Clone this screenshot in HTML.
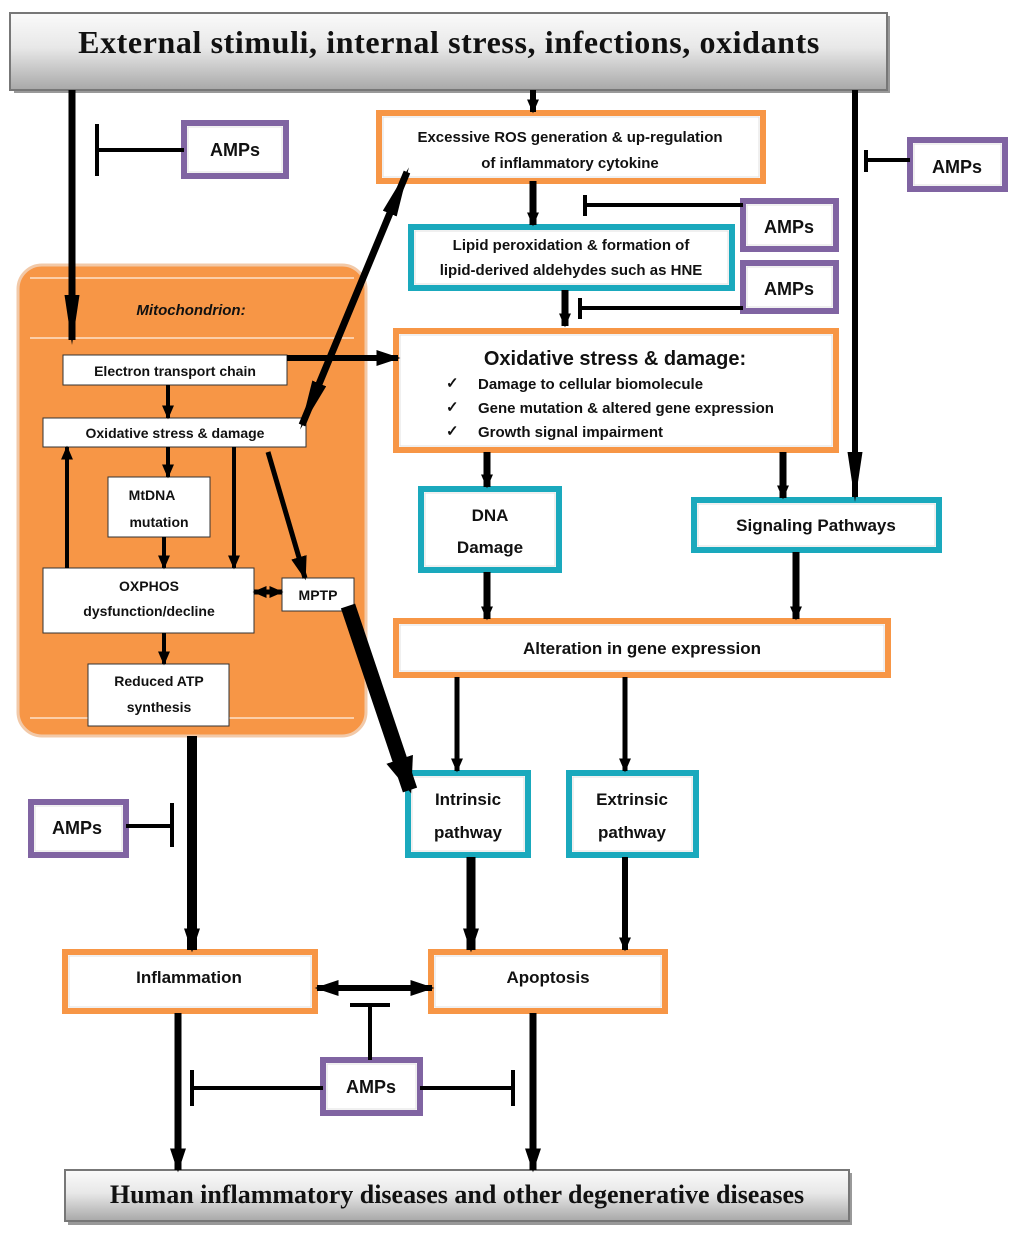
<!DOCTYPE html>
<html><head><meta charset="utf-8"><style>
body{margin:0;background:#fff}
svg text{font-family:"Liberation Sans",sans-serif;font-weight:bold;fill:#111}
</style></head><body>
<svg width="1024" height="1238" viewBox="0 0 1024 1238" xmlns="http://www.w3.org/2000/svg">
<defs>
<linearGradient id="g" x1="0" y1="0" x2="0" y2="1"><stop offset="0" stop-color="#fafafa"/><stop offset="0.45" stop-color="#e8e8e8"/><stop offset="1" stop-color="#a8a8a8"/></linearGradient>
<marker id="a" viewBox="0 0 10 10" refX="9" refY="5" preserveAspectRatio="none" markerUnits="userSpaceOnUse" markerWidth="24" markerHeight="16" orient="auto-start-reverse"><path d="M0,0L10,5L0,10z" fill="#000"/></marker>
<marker id="s" viewBox="0 0 10 10" refX="9" refY="5" preserveAspectRatio="none" markerUnits="userSpaceOnUse" markerWidth="14" markerHeight="12" orient="auto-start-reverse"><path d="M0,0L10,5L0,10z" fill="#000"/></marker>
<marker id="l" viewBox="0 0 10 10" refX="9" refY="5" preserveAspectRatio="none" markerUnits="userSpaceOnUse" markerWidth="50" markerHeight="15" orient="auto-start-reverse"><path d="M0,0L10,5L0,10z" fill="#000"/></marker>
<marker id="b" viewBox="0 0 10 10" refX="9" refY="5" preserveAspectRatio="none" markerUnits="userSpaceOnUse" markerWidth="36" markerHeight="28" orient="auto"><path d="M0,0L10,5L0,10z" fill="#000"/></marker>
</defs>

<!-- banners -->
<rect x="14" y="16" width="876" height="77" fill="#999"/>
<rect x="10" y="13" width="877" height="77" fill="url(#g)" stroke="#777" stroke-width="2"/>
<text x="449" y="53" text-anchor="middle" style="font-family:'Liberation Serif',serif;font-size:32px;letter-spacing:0.6px">External stimuli, internal stress, infections, oxidants</text>
<rect x="68" y="1173" width="784" height="52" fill="#999"/>
<rect x="65" y="1170" width="784" height="51" fill="url(#g)" stroke="#777" stroke-width="2"/>
<text x="457" y="1203" text-anchor="middle" style="font-family:'Liberation Serif',serif;font-size:26px">Human inflammatory diseases and other degenerative diseases</text>

<!-- mitochondrion -->
<rect x="18" y="265" width="348" height="471" rx="24" fill="#f79646" stroke="#f2c9a8" stroke-width="3"/>
<line x1="30" y1="278" x2="354" y2="278" stroke="#fde0c8" stroke-width="1.5"/>
<line x1="30" y1="338" x2="354" y2="338" stroke="#fde0c8" stroke-width="1.5"/>
<line x1="30" y1="718" x2="354" y2="718" stroke="#fde0c8" stroke-width="1.5"/>
<text x="191" y="315" text-anchor="middle" font-style="italic" font-size="15">Mitochondrion:</text>
<g fill="#fff" stroke="#333" stroke-width="1">
<rect x="63" y="355" width="224" height="30"/>
<rect x="43" y="418" width="263" height="29"/>
<rect x="108" y="477" width="102" height="60"/>
<rect x="43" y="568" width="211" height="65"/>
<rect x="282" y="578" width="72" height="33"/>
<rect x="88" y="664" width="141" height="62"/>
</g>
<g font-size="14" text-anchor="middle">
<text x="175" y="376">Electron transport chain</text>
<text x="175" y="438">Oxidative stress &amp; damage</text>
<text x="152" y="500">MtDNA</text><text x="159" y="527">mutation</text>
<text x="149" y="591">OXPHOS</text><text x="149" y="616">dysfunction/decline</text>
<text x="318" y="600">MPTP</text>
<text x="159" y="686">Reduced ATP</text><text x="159" y="712">synthesis</text>
</g>

<!-- orange boxes -->
<g fill="#fff" stroke="#f79646" stroke-width="6">
<rect x="379" y="113" width="384" height="68"/>
<rect x="396" y="331" width="440" height="119"/>
<rect x="396" y="621" width="492" height="54"/>
<rect x="65" y="952" width="250" height="59"/>
<rect x="431" y="952" width="234" height="59"/>
</g>
<!-- teal boxes -->
<g fill="#fff" stroke="#1aa9bd" stroke-width="6">
<rect x="411" y="227" width="321" height="61"/>
<rect x="421" y="489" width="138" height="81"/>
<rect x="694" y="500" width="245" height="50"/>
<rect x="408" y="773" width="120" height="82"/>
<rect x="569" y="773" width="127" height="82"/>
</g>
<!-- purple AMPs -->
<g fill="#fff" stroke="#8064a2" stroke-width="6">
<rect x="184" y="123" width="102" height="53"/>
<rect x="910" y="140" width="95" height="49"/>
<rect x="743" y="201" width="93" height="48"/>
<rect x="743" y="263" width="93" height="48"/>
<rect x="31" y="802" width="95" height="53"/>
<rect x="323" y="1060" width="97" height="53"/>
</g>
<g fill="none" stroke="#e0e0e0" stroke-width="1">
<rect x="383" y="117" width="376" height="60"/><rect x="400" y="335" width="432" height="111"/><rect x="400" y="625" width="484" height="46"/>
<rect x="69" y="956" width="242" height="51"/><rect x="435" y="956" width="226" height="51"/>
<rect x="415" y="231" width="313" height="53"/><rect x="425" y="493" width="130" height="73"/><rect x="698" y="504" width="237" height="42"/>
<rect x="412" y="777" width="112" height="74"/><rect x="573" y="777" width="119" height="74"/>
<rect x="188" y="127" width="94" height="45"/><rect x="914" y="144" width="87" height="41"/><rect x="747" y="205" width="85" height="40"/><rect x="747" y="267" width="85" height="40"/><rect x="35" y="806" width="87" height="45"/><rect x="327" y="1064" width="89" height="45"/>
</g>

<g font-size="16" text-anchor="middle">
<text x="570" y="142" font-size="15">Excessive ROS generation &amp; up-regulation</text>
<text x="570" y="168" font-size="15">of inflammatory cytokine</text>
<text x="571" y="250" font-size="15">Lipid peroxidation &amp; formation of</text>
<text x="571" y="275" font-size="15">lipid-derived aldehydes such as HNE</text>
<text x="615" y="365" font-size="20">Oxidative stress &amp; damage:</text>
<text x="490" y="521" font-size="17">DNA</text><text x="490" y="553" font-size="17">Damage</text>
<text x="816" y="531" font-size="17">Signaling Pathways</text>
<text x="642" y="654" font-size="17">Alteration in gene expression</text>
<text x="468" y="805" font-size="17">Intrinsic</text><text x="468" y="838" font-size="17">pathway</text>
<text x="632" y="805" font-size="17">Extrinsic</text><text x="632" y="838" font-size="17">pathway</text>
<text x="189" y="983" font-size="17">Inflammation</text>
<text x="548" y="983" font-size="17">Apoptosis</text>
<text x="235" y="156" font-size="18">AMPs</text>
<text x="957" y="173" font-size="18">AMPs</text>
<text x="789" y="233" font-size="18">AMPs</text>
<text x="789" y="295" font-size="18">AMPs</text>
<text x="77" y="834" font-size="18">AMPs</text>
<text x="371" y="1093" font-size="18">AMPs</text>
</g>
<g font-size="15">
<text x="446" y="388" font-weight="normal">✓</text><text x="478" y="389">Damage to cellular biomolecule</text>
<text x="446" y="412" font-weight="normal">✓</text><text x="478" y="413">Gene mutation &amp; altered gene expression</text>
<text x="446" y="436" font-weight="normal">✓</text><text x="478" y="437">Growth signal impairment</text>
</g>

<!-- arrows -->
<g stroke="#000" fill="none">
<line x1="72" y1="90" x2="72" y2="340" stroke-width="7" marker-end="url(#l)"/>
<line x1="533" y1="90" x2="533" y2="112" stroke-width="6" marker-end="url(#s)"/>
<line x1="533" y1="181" x2="533" y2="225" stroke-width="7" marker-end="url(#s)"/>
<line x1="565" y1="290" x2="565" y2="326" stroke-width="7" marker-end="url(#s)"/>
<line x1="855" y1="90" x2="855" y2="497" stroke-width="6" marker-end="url(#l)"/>
<line x1="287" y1="358" x2="398" y2="358" stroke-width="6" marker-end="url(#a)"/>
<line x1="302" y1="425" x2="407" y2="172" stroke-width="7" marker-start="url(#l)" marker-end="url(#l)"/>
<line x1="168" y1="385" x2="168" y2="418" stroke-width="4" marker-end="url(#s)"/>
<line x1="168" y1="447" x2="168" y2="477" stroke-width="4" marker-end="url(#s)"/>
<line x1="234" y1="447" x2="234" y2="568" stroke-width="4" marker-end="url(#s)"/>
<line x1="268" y1="452" x2="305" y2="578" stroke-width="5" marker-end="url(#a)"/>
<line x1="164" y1="537" x2="164" y2="568" stroke-width="4" marker-end="url(#s)"/>
<line x1="67" y1="568" x2="67" y2="447" stroke-width="4" marker-end="url(#s)"/>
<line x1="254" y1="592" x2="282" y2="592" stroke-width="5" marker-start="url(#s)" marker-end="url(#s)"/>
<line x1="164" y1="633" x2="164" y2="664" stroke-width="4" marker-end="url(#s)"/>
<line x1="487" y1="452" x2="487" y2="487" stroke-width="7" marker-end="url(#s)"/>
<line x1="783" y1="452" x2="783" y2="498" stroke-width="7" marker-end="url(#s)"/>
<line x1="487" y1="572" x2="487" y2="619" stroke-width="7" marker-end="url(#s)"/>
<line x1="796" y1="552" x2="796" y2="619" stroke-width="7" marker-end="url(#s)"/>
<line x1="457" y1="677" x2="457" y2="771" stroke-width="5" marker-end="url(#s)"/>
<line x1="625" y1="677" x2="625" y2="771" stroke-width="5" marker-end="url(#s)"/>
<line x1="348" y1="606" x2="410" y2="790" stroke-width="15" marker-end="url(#b)"/>
<line x1="192" y1="736" x2="192" y2="950" stroke-width="10" marker-end="url(#a)"/>
<line x1="471" y1="857" x2="471" y2="950" stroke-width="9" marker-end="url(#a)"/>
<line x1="625" y1="857" x2="625" y2="950" stroke-width="6" marker-end="url(#s)"/>
<line x1="317" y1="988" x2="432" y2="988" stroke-width="6" marker-start="url(#a)" marker-end="url(#a)"/>
<line x1="178" y1="1013" x2="178" y2="1170" stroke-width="7" marker-end="url(#a)"/>
<line x1="533" y1="1013" x2="533" y2="1170" stroke-width="7" marker-end="url(#a)"/>
<!-- inhibitors -->
<g stroke-width="4">
<line x1="184" y1="150" x2="97" y2="150"/><line x1="97" y1="124" x2="97" y2="176"/>
<line x1="910" y1="160" x2="866" y2="160"/><line x1="866" y1="150" x2="866" y2="172"/>
<line x1="743" y1="205" x2="585" y2="205"/><line x1="585" y1="195" x2="585" y2="216"/>
<line x1="743" y1="308" x2="580" y2="308"/><line x1="580" y1="298" x2="580" y2="319"/>
<line x1="126" y1="826" x2="172" y2="826"/><line x1="172" y1="803" x2="172" y2="847"/>
<line x1="370" y1="1060" x2="370" y2="1005"/><line x1="350" y1="1005" x2="390" y2="1005"/>
<line x1="323" y1="1088" x2="192" y2="1088"/><line x1="192" y1="1070" x2="192" y2="1106"/>
<line x1="420" y1="1088" x2="513" y2="1088"/><line x1="513" y1="1070" x2="513" y2="1106"/>
</g>
</g>
</svg>
</body></html>
